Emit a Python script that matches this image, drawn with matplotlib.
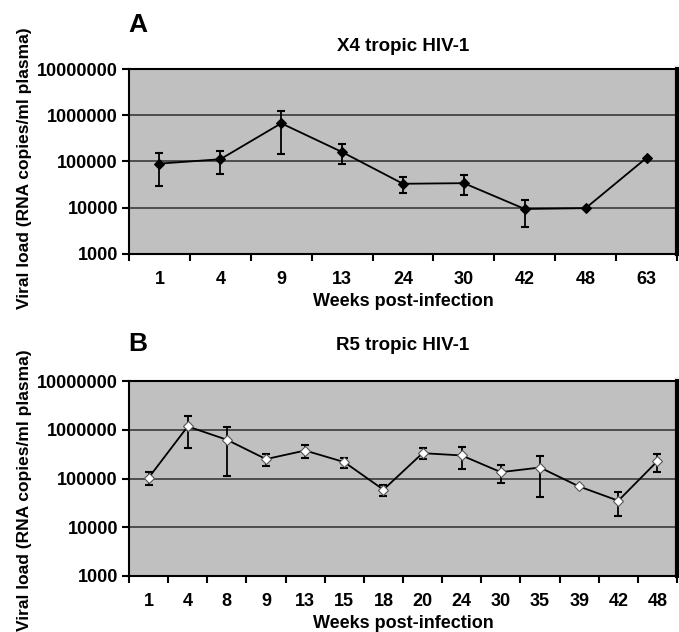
import numpy as np
import matplotlib
matplotlib.use("Agg")
import matplotlib.pyplot as plt
from matplotlib.ticker import FixedLocator, NullLocator, NullFormatter

plt.rcParams['font.family'] = ['Liberation Sans', 'DejaVu Sans']
plt.rcParams['font.weight'] = 'bold'

# Panel A: X4 tropic HIV-1
weeks_a = ['1', '4', '9', '13', '24', '30', '42', '48', '63']
load_a = [90000, 112000, 670000, 160000, 33000, 34000, 9400, 9800, 120000]
upper_a = [150000, 168000, 1240000, 234000, 46000, 52000, 15000, 9800, 120000]
lower_a = [30000, 53000, 142000, 89000, 21000, 18600, 3800, 9800, 120000]

# Panel B: R5 tropic HIV-1
weeks_b = ['1', '4', '8', '9', '13', '15', '18', '20', '24', '30', '35', '39', '42', '48']
load_b = [103000, 1170000, 624000, 250000, 375000, 217000, 59000, 331000, 297000,
          135000, 168000, 68600, 35000, 227000]
upper_b = [137000, 1900000, 1120000, 311000, 476000, 262000, 73000, 413000, 440000,
           191000, 288000, 68600, 54000, 311000]
lower_b = [73000, 420000, 115000, 182000, 262000, 166000, 44000, 253000, 153000,
           80000, 41000, 68600, 16800, 137000]

yticks = [1000, 10000, 100000, 1000000, 10000000]


def draw_panel(ax, weeks, load, upper, lower, face, title, letter, title_pad, letter_y):
    n = len(weeks)
    x = np.arange(n) + 0.5
    load = np.array(load, dtype=float)
    yerr = [load - np.array(lower), np.array(upper) - load]

    ax.set_facecolor('#c0c0c0')
    for v in yticks[1:-1]:
        ax.axhline(v, color='#3a3a3a', lw=1.2, zorder=1)

    ax.errorbar(x, load, yerr=yerr, fmt='none', ecolor='black', elinewidth=1.3,
                capsize=3, capthick=1.5, zorder=2)
    ax.plot(x, load, color='black', lw=1.3, marker='D', markersize=5,
            markerfacecolor=face, markeredgecolor='black' if face == 'black' else '#555555',
            markeredgewidth=0.8, zorder=3)

    ax.set_yscale('log')
    ax.set_ylim(1000, 10000000)
    ax.set_xlim(0, n)
    ax.yaxis.set_major_locator(FixedLocator(yticks))
    ax.yaxis.set_minor_locator(NullLocator())
    ax.yaxis.set_minor_formatter(NullFormatter())
    ax.set_yticklabels([str(v) for v in yticks], fontsize=13, fontweight='bold')

    ax.xaxis.set_major_locator(FixedLocator(x))
    ax.set_xticklabels(weeks, fontsize=13, fontweight='bold')
    ax.xaxis.set_minor_locator(FixedLocator(np.arange(n + 1)))
    ax.tick_params(axis='x', which='major', length=0, pad=12)
    ax.tick_params(axis='x', which='minor', length=5, width=1.5, direction='out')
    ax.tick_params(axis='y', which='major', length=5, width=1.5, direction='out', pad=3)

    for side in ['left', 'bottom', 'top']:
        ax.spines[side].set_color('black')
        ax.spines[side].set_linewidth(1.5)
    ax.spines['right'].set_linewidth(3)

    ax.set_xlabel('Weeks post-infection', fontsize=13, fontweight='bold', labelpad=4)
    ax.set_title(title, fontsize=13.5, fontweight='bold', pad=title_pad)
    ax.text(-0.002, letter_y, letter, transform=ax.transAxes, fontsize=19,
            fontweight='bold', ha='left', va='center')


fig = plt.figure(figsize=(6.79, 6.32), dpi=100)
ax_a = fig.add_axes([129 / 679, 1 - 254 / 632, 548 / 679, 185 / 632])
ax_b = fig.add_axes([129 / 679, 1 - 576 / 632, 548 / 679, 195 / 632])

draw_panel(ax_a, weeks_a, load_a, upper_a, lower_a, 'black', 'X4 tropic HIV-1', 'A', 13, 1.24)
draw_panel(ax_b, weeks_b, load_b, upper_b, lower_b, 'white', 'R5 tropic HIV-1', 'B', 22, 1.19)

# y-axis labels, one per panel
fig.text(25 / 679, 1 - 168 / 632, 'Viral load (RNA copies/ml plasma)', rotation=90,
         ha='center', va='center', fontsize=12.5, fontweight='bold')
fig.text(25 / 679, 1 - 490 / 632, 'Viral load (RNA copies/ml plasma)', rotation=90,
         ha='center', va='center', fontsize=12.5, fontweight='bold')

fig.savefig('out.png', dpi=100)
